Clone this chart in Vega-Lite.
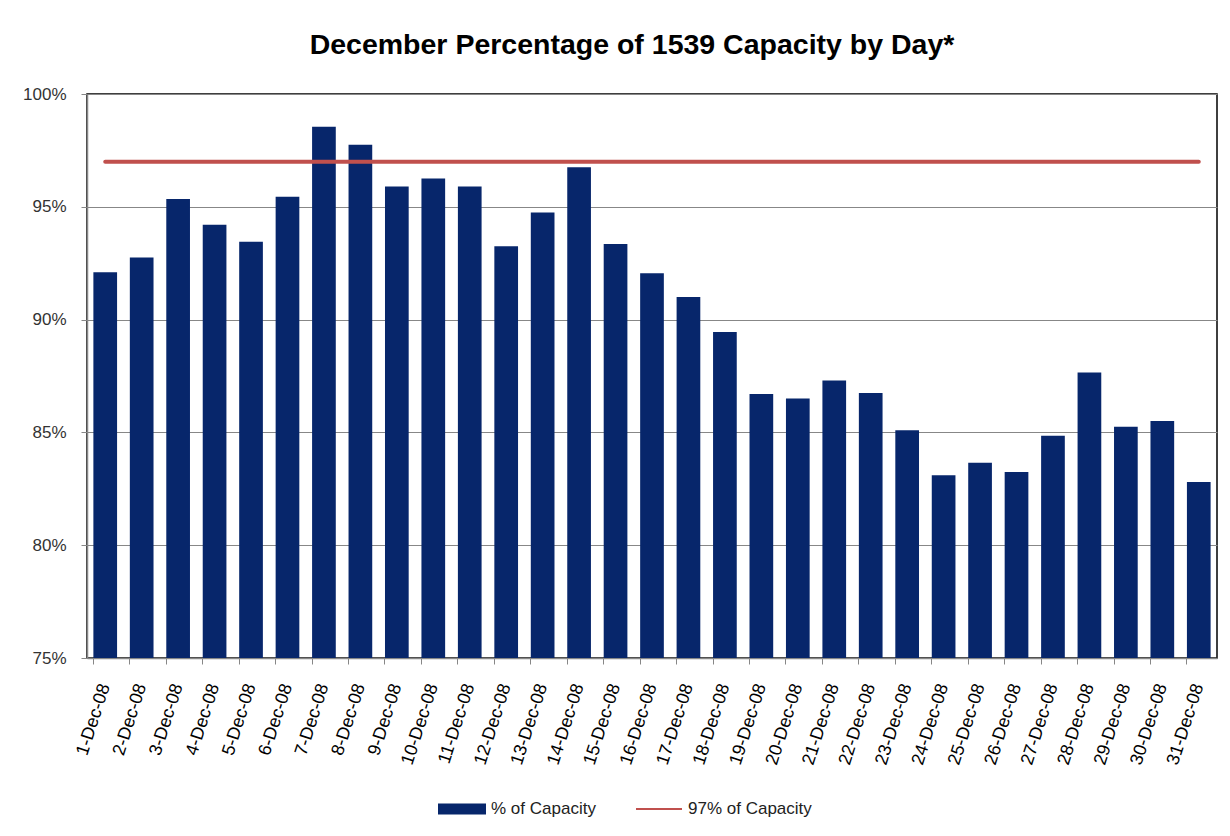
{
  "$schema": "https://vega.github.io/schema/vega-lite/v6.json",
  "width": 1130,
  "height": 564,
  "autosize": {"type": "none"},
  "padding": {"left": 87, "top": 94, "right": 13, "bottom": 178},
  "background": "white",
  "config": {
    "view": {"stroke": "#000000", "strokeWidth": 1.5},
    "font": "Liberation Sans"
  },
  "title": {
    "text": "December Percentage of 1539 Capacity by Day*",
    "font": "Liberation Sans",
    "fontSize": 28.5,
    "fontWeight": "bold",
    "color": "#000000",
    "anchor": "middle",
    "frame": "group",
    "baseline": "alphabetic",
    "offset": 3,
    "dx": -20
  },
  "data": {
    "values": [
      {"day": "1-Dec-08", "pct": 92.1, "target": 97},
      {"day": "2-Dec-08", "pct": 92.75, "target": 97},
      {"day": "3-Dec-08", "pct": 95.35, "target": 97},
      {"day": "4-Dec-08", "pct": 94.2, "target": 97},
      {"day": "5-Dec-08", "pct": 93.45, "target": 97},
      {"day": "6-Dec-08", "pct": 95.45, "target": 97},
      {"day": "7-Dec-08", "pct": 98.55, "target": 97},
      {"day": "8-Dec-08", "pct": 97.75, "target": 97},
      {"day": "9-Dec-08", "pct": 95.9, "target": 97},
      {"day": "10-Dec-08", "pct": 96.25, "target": 97},
      {"day": "11-Dec-08", "pct": 95.9, "target": 97},
      {"day": "12-Dec-08", "pct": 93.25, "target": 97},
      {"day": "13-Dec-08", "pct": 94.75, "target": 97},
      {"day": "14-Dec-08", "pct": 96.75, "target": 97},
      {"day": "15-Dec-08", "pct": 93.35, "target": 97},
      {"day": "16-Dec-08", "pct": 92.05, "target": 97},
      {"day": "17-Dec-08", "pct": 91.0, "target": 97},
      {"day": "18-Dec-08", "pct": 89.45, "target": 97},
      {"day": "19-Dec-08", "pct": 86.7, "target": 97},
      {"day": "20-Dec-08", "pct": 86.5, "target": 97},
      {"day": "21-Dec-08", "pct": 87.3, "target": 97},
      {"day": "22-Dec-08", "pct": 86.75, "target": 97},
      {"day": "23-Dec-08", "pct": 85.1, "target": 97},
      {"day": "24-Dec-08", "pct": 83.1, "target": 97},
      {"day": "25-Dec-08", "pct": 83.65, "target": 97},
      {"day": "26-Dec-08", "pct": 83.25, "target": 97},
      {"day": "27-Dec-08", "pct": 84.85, "target": 97},
      {"day": "28-Dec-08", "pct": 87.65, "target": 97},
      {"day": "29-Dec-08", "pct": 85.25, "target": 97},
      {"day": "30-Dec-08", "pct": 85.5, "target": 97},
      {"day": "31-Dec-08", "pct": 82.8, "target": 97}
    ]
  },
  "layer": [
    {
      "mark": {"type": "bar", "clip": true},
      "encoding": {
        "x": {
          "field": "day", "type": "ordinal", "sort": null,
          "scale": {"paddingInner": 0.35, "paddingOuter": 0.175},
          "axis": {
            "orient": "bottom", "title": null, "labels": false,
            "bandPosition": 0, "ticks": true, "tickSize": 6,
            "tickColor": "#878787", "domainColor": "#878787", "domainWidth": 1.5, "grid": false
          }
        },
        "y": {
          "field": "pct", "type": "quantitative",
          "scale": {"domain": [75, 100], "zero": false, "nice": false},
          "axis": {
            "title": null, "values": [75, 80, 85, 90, 95, 100],
            "labelExpr": "datum.value + '%'",
            "grid": true, "gridColor": "#878787", "gridWidth": 1.2,
            "domainColor": "#878787", "domainWidth": 1.5,
            "tickColor": "#878787", "tickSize": 6,
            "labelFont": "Liberation Sans", "labelFontSize": 17, "labelColor": "#333333",
            "labelPadding": 15
          }
        },
        "color": {
          "datum": "% of Capacity",
          "scale": {"range": ["#07266B"]},
          "legend": {
            "orient": "none", "legendX": 351, "legendY": 691,
            "title": null,
            "symbolType": "M-1,-0.23L1,-0.23L1,0.23L-1,0.23Z",
            "symbolSize": 2304, "symbolStrokeWidth": 0,
            "labelFont": "Liberation Sans", "labelFontSize": 17, "labelColor": "#222222",
            "labelOffset": 5
          }
        }
      }
    },
    {
      "mark": {"type": "line", "strokeWidth": 4, "strokeCap": "round"},
      "encoding": {
        "x": {
          "field": "day", "type": "ordinal", "sort": null,
          "axis": {
            "orient": "bottom", "title": null, "ticks": false, "domain": false,
            "labelAngle": -72, "labelAlign": "right", "labelBaseline": "middle",
            "labelFont": "Liberation Sans", "labelFontSize": 18, "labelColor": "#000000",
            "labelPadding": 26, "grid": false
          }
        },
        "y": {
          "field": "target", "type": "quantitative",
          "axis": {
            "title": null, "values": [75, 80, 85, 90, 95, 100],
            "labelExpr": "datum.value + '%'",
            "grid": true, "gridColor": "#878787", "gridWidth": 1.2,
            "domainColor": "#878787", "domainWidth": 1.5,
            "tickColor": "#878787", "tickSize": 6,
            "labelFont": "Liberation Sans", "labelFontSize": 17, "labelColor": "#333333",
            "labelPadding": 15
          }
        },
        "stroke": {
          "datum": "97% of Capacity",
          "scale": {"range": ["#C0504D"]},
          "legend": {
            "orient": "none", "legendX": 548, "legendY": 691,
            "title": null,
            "symbolType": "stroke",
            "symbolSize": 2116, "symbolStrokeWidth": 2,
            "labelFont": "Liberation Sans", "labelFontSize": 17, "labelColor": "#222222",
            "labelOffset": 5
          }
        }
      }
    }
  ],
  "resolve": {"axis": {"x": "independent"}}
}
